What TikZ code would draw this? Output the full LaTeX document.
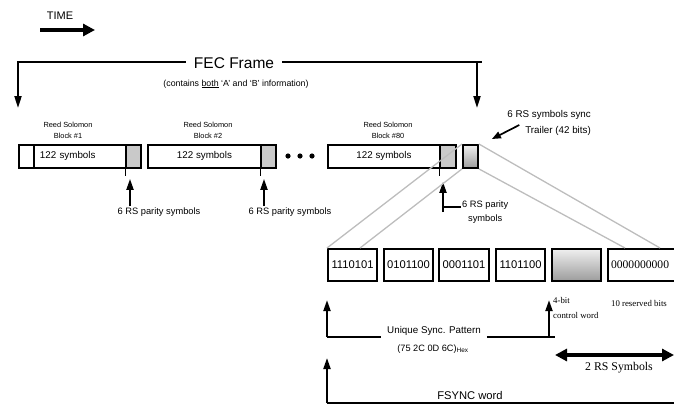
\documentclass[tikz,border=0pt]{standalone}
\usepackage{fontspec}
\setmainfont{Liberation Sans}
\newfontfamily\reportserif{Liberation Serif}
\usepackage{tikz}
\usetikzlibrary{arrows.meta,positioning,calc}
\definecolor{ParityFill}{HTML}{C9C9C9}
\definecolor{ZoomLine}{HTML}{BDBDBD}
\definecolor{ShadeTop}{HTML}{EFEFEF}
\definecolor{ShadeLow}{HTML}{9C9C9C}
\newcommand{\rsbox}[5]{%
  \node[draw,line width=1.9pt,inner sep=0pt,anchor=north west,
        minimum width=#2pt,minimum height=23pt,
        font=\fontsize{9.8}{11}\selectfont,#5] (#1) at (#3) {#4};}
\newcommand{\bitbox}[5]{%
  \node[draw,line width=2.1pt,inner xsep=2pt,inner ysep=0pt,anchor=north west,
        minimum width=#2pt,minimum height=32pt,
        font=\fontsize{11.2}{13}\selectfont,#5] (#1) at (#3) {#4};}

\begin{document}
\begin{tikzpicture}[x=1pt,y=-1pt,
    rslabel/.style={align=center,inner sep=0pt,font=\fontsize{7.4}{11}\selectfont},
    paritytext/.style={inner sep=1pt,font=\fontsize{9.3}{14}\selectfont},
    parityarrow/.style={-{Triangle[length=11pt,width=7pt]},line width=2pt},
    framearrow/.style={-{Triangle[length=12pt,width=7pt]},line width=2pt},
    zoomline/.style={ZoomLine,line width=1.3pt},
    spanline/.style={line width=2pt},
    serifnote/.style={inner sep=0pt,font=\reportserif\fontsize{8.8}{15}\selectfont}]
  \useasboundingbox (0,0) rectangle (674,405);
  \clip (0,0) rectangle (674,405);

  % time direction
  \node[inner sep=0pt,font=\fontsize{11}{12}\selectfont] (timelbl) at (60,16) {TIME};
  \coordinate (timetail) at (40,30);
  \draw[-{Triangle[length=12pt,width=12pt]},line width=4.5pt] (timetail) -- ++(55,0);

  % FEC frame bracket
  \node[inner xsep=8pt,font=\fontsize{15.5}{17}\selectfont] (fec) at (234,63) {FEC Frame};
  \node[inner sep=0pt,font=\fontsize{8.8}{10}\selectfont] (fecnote) at (236,84)
    {(contains \underline{both} `A' and `B' information)};
  \coordinate (fecleft) at (18,62);
  \coordinate (fecright) at (482,62);
  \draw[framearrow] (fec.west |- fecleft) -- (fecleft) -- ++(0,46);
  \draw[spanline] (fec.east |- fecright) -- (fecright);
  \draw[framearrow] ([xshift=-5pt]fecright) -- ++(0,46);

  % Reed Solomon blocks
  \rsbox{pre1}{15}{18,144}{}{}
  \rsbox{sym1}{92}{33,144}{122 symbols}{text width=80pt,align=left}
  \rsbox{par1}{15}{125,144}{}{fill=ParityFill}
  \rsbox{sym2}{113}{147,144}{122 symbols}{}
  \rsbox{par2}{15}{260,144}{}{fill=ParityFill}
  \rsbox{sym80}{112}{327,144}{122 symbols}{}
  \rsbox{par80}{16}{439,144}{}{fill=ParityFill}
  \rsbox{trl}{15}{462,144}{}{top color=ShadeTop,bottom color=ShadeLow}
  \node[rslabel,anchor=south] (rs1lbl) at (68,139) {Reed Solomon\\Block \#1};
  \node[rslabel,anchor=south] (rs2lbl) at (208,139) {Reed Solomon\\Block \#2};
  \node[rslabel,anchor=south] (rs80lbl) at (388,139) {Reed Solomon\\Block \#80};
  \foreach \dx in {288,300,312}
    \fill (\dx,156) circle (2.6pt);

  % parity symbol pointers
  \node[paritytext] (par1lbl) at (159,212) {6 RS parity symbols};
  \node[paritytext] (par2lbl) at (290,212) {6 RS parity symbols};
  \node[paritytext,align=center,anchor=west] (par80lbl) at (461,212) {6 RS parity\\symbols};
  \draw[line width=1pt] (par1.south west) -- ++(0,7);
  \draw[line width=1pt] (par2.south west) -- ++(0,7);
  \draw[line width=1pt] (par80.south west) -- ++(0,7);
  \draw[parityarrow] ([xshift=5pt]par1.south west |- par1lbl.north) -- ([shift={(5,10)}]par1.south west);
  \draw[parityarrow] ([xshift=4pt]par2.south west |- par2lbl.north) -- ([shift={(4,10)}]par2.south west);
  \coordinate (par80foot) at ([xshift=4pt]par80.south west |- par80lbl.west);
  \draw[parityarrow] (par80foot) -- ([shift={(4,13)}]par80.south west);
  \draw[spanline] ([yshift=5pt]par80lbl.west) -- ([yshift=5pt]par80foot);

  % sync trailer callout
  \node[inner sep=1pt,align=right,anchor=east,font=\fontsize{9.8}{16}\selectfont] (synclbl)
    at (592,123) {6 RS symbols sync\\Trailer (42 bits)};
  \draw[-{Triangle[length=9pt,width=7pt]},line width=1.7pt]
    ([shift={(13,2)}]synclbl.west) -- ([shift={(13,-5)}]trl.north east);

  % FSYNC word boxes
  \bitbox{b1}{49}{327,248}{1110101}{}
  \bitbox{b2}{49}{383,248}{0101100}{}
  \bitbox{b3}{50}{438,248}{0001101}{}
  \bitbox{b4}{49}{495,248}{1101100}{}
  \bitbox{b5}{49}{551,248}{}{top color=ShadeTop,bottom color=ShadeLow}
  \bitbox{b6}{80}{607,248}{0000000000}{font=\reportserif\fontsize{11.6}{13}\selectfont,text width=74pt,align=left}
  \draw[zoomline] (trl.north west) -- (b1.north west);
  \draw[zoomline] (trl.south west) -- ([xshift=33pt]b1.north west);
  \draw[zoomline] (trl.south east) -- ([xshift=18pt]b6.north west);
  \draw[zoomline] (trl.north east) -- ([xshift=53pt]b6.north west);

  % spans below the boxes
  \coordinate (uspl) at (327,337);
  \coordinate (ctrlfoot) at ([xshift=-2pt]uspl -| b5.south west);
  \node[inner xsep=6pt,font=\fontsize{9.8}{11}\selectfont] (uspat) at (434,331) {Unique Sync. Pattern};
  \node[inner sep=0pt,font=\fontsize{9.2}{10}\selectfont] (ushex) at (433,349) {(75 2C 0D 6C)\textsubscript{Hex}};
  \draw[spanline] (uspl) -- (uspl -| uspat.west);
  \draw[spanline] (uspl -| uspat.east) -- ([xshift=6pt]ctrlfoot);
  \draw[parityarrow] (uspl) -- ([yshift=-18pt]b1.south west);
  \draw[parityarrow] (ctrlfoot) -- ([shift={(-2,18)}]b5.south west);
  \node[serifnote,align=left,anchor=north west] (ctrllbl) at (553,297) {4-bit\\control word};
  \node[serifnote] (rsvlbl) at (639,303) {10 reserved bits};
  \coordinate (rsl) at (555,355);
  \coordinate (rsr) at (674,355);
  \draw[{Triangle[length=12pt,width=12pt]}-{Triangle[length=12pt,width=12pt]},line width=3.2pt] (rsl) -- (rsr);
  \node[inner sep=0pt,font=\reportserif\fontsize{11.8}{13}\selectfont] (rsword) at (619,368) {2 RS Symbols};
  \coordinate (fsyncl) at (327,403);
  \coordinate (fsyncr) at (674,403);
  \draw[parityarrow] (fsyncl) -- ([yshift=-21pt]uspl);
  \draw[spanline] (fsyncl) -- (fsyncr);
  \node[inner sep=1pt,anchor=south,font=\fontsize{11.2}{13}\selectfont] (fsync) at (470,401) {FSYNC word};
\end{tikzpicture}
\end{document}
